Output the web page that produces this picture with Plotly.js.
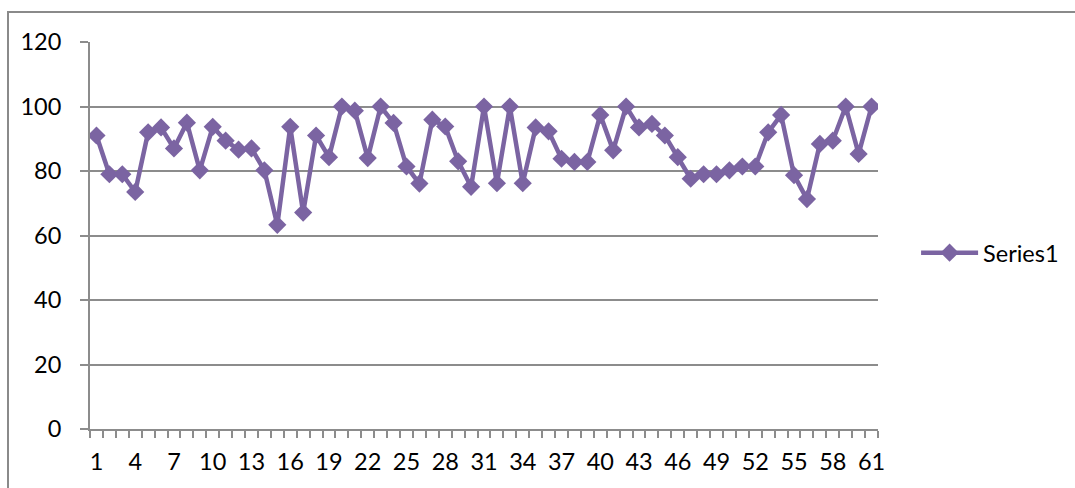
<!DOCTYPE html>
<html>
<head>
<meta charset="utf-8">
<script src="https://cdn.plot.ly/plotly-3.0.1.min.js"></script>
<style>
  html, body { margin: 0; padding: 0; background: #fff; }
  #wrap { position: relative; width: 1075px; height: 488px; overflow: hidden; }
  #chart { position: absolute; left: 0; top: 0; width: 1075px; height: 488px; }
  #frame { position: absolute; left: 7px; top: 11px; width: 1200px; height: 600px;
           border-left: 2px solid #8a8a8a; border-top: 2px solid #8a8a8a; pointer-events: none; }
</style>
</head>
<body>
<div id="wrap">
  <div id="chart"></div>
  <div id="frame"></div>
</div>
<script>
const categories = Array.from({length: 61}, (_, i) => i + 1);
const series1 = [
  91, 79, 79, 73.5, 92, 93.5, 87, 95, 80.2, 93.7,
  89.4, 86.6, 87, 80.2, 63.3, 93.7, 67.1, 91, 84.3, 100,
  98.7, 84, 100, 94.9, 81.4, 76.1, 95.9, 93.8, 83, 75.1,
  100, 76.2, 100, 76.2, 93.5, 92.3, 83.8, 82.8, 82.8, 97.4,
  86.4, 100, 93.5, 94.6, 91, 84.3, 77.6, 79, 79, 80.2,
  81.4, 81.4, 92, 97.4, 78.7, 71.3, 88.4, 89.4, 100, 85.3,
  100
];
const labelTicks = categories.filter(c => (c - 1) % 3 === 0);
const yTicks = [0, 20, 40, 60, 80, 100, 120];
const seriesName = 'Series1';

const purple = '#7B64A2';
const grid = '#8c8c8c';
const family = 'Lato, "Open Sans", sans-serif';
const tickFont = {family: family, size: 23.5, color: '#000'};
const legendFont = {family: family, size: 23.5, color: '#000'};

const trace = {
  x: categories,
  y: series1,
  name: seriesName,
  type: 'scatter',
  mode: 'lines+markers',
  line: {color: purple, width: 4.5},
  marker: {symbol: 'diamond', size: 14, color: purple},
  showlegend: true
};

const layout = {
  width: 1075,
  height: 488,
  margin: {l: 90, r: 196, t: 42, b: 59},
  paper_bgcolor: '#fff',
  plot_bgcolor: '#fff',
  font: tickFont,
  showlegend: true,
  legend: {
    x: 1.047, xanchor: 'left',
    y: 0.455, yanchor: 'middle',
    itemwidth: 57,
    font: legendFont,
    bgcolor: 'rgba(0,0,0,0)'
  },
  xaxis: {
    type: 'linear',
    range: [0.5, 61.5],
    tickmode: 'array',
    tickvals: labelTicks,
    ticktext: labelTicks.map(String),
    ticks: '',
    showgrid: false,
    zeroline: false,
    showline: true,
    linecolor: grid,
    linewidth: 2,
    ticklabelstandoff: 11,
    tickfont: tickFont,
    minor: {
      ticks: 'outside',
      tick0: 0.5,
      dtick: 1,
      ticklen: 7,
      tickwidth: 2,
      tickcolor: grid,
      showgrid: false
    },
    fixedrange: true
  },
  yaxis: {
    range: [0, 120],
    tickmode: 'array',
    tickvals: yTicks,
    ticktext: yTicks.map(String),
    ticks: 'outside',
    ticklen: 8,
    tickwidth: 2,
    tickcolor: grid,
    showgrid: true,
    gridcolor: grid,
    gridwidth: 2,
    zeroline: false,
    showline: true,
    linecolor: grid,
    linewidth: 2,
    ticklabelstandoff: 14,
    tickfont: tickFont,
    fixedrange: true
  }
};

Plotly.newPlot('chart', [trace], layout, {displayModeBar: false, staticPlot: true});
</script>
</body>
</html>
